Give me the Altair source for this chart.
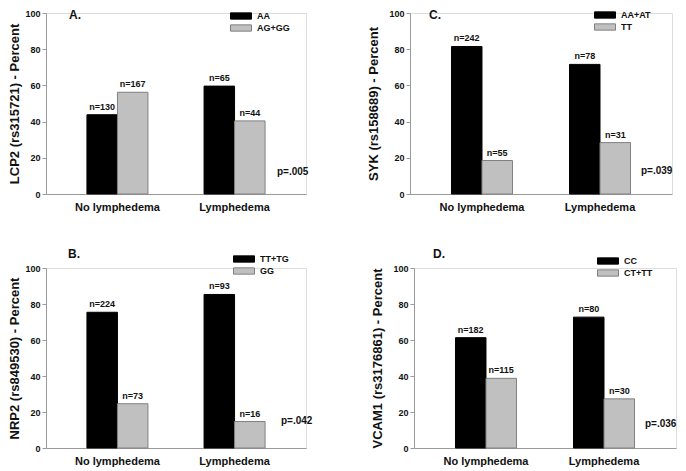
import altair as alt
import pandas as pd

# ---------------- data ----------------
groups = ["No lymphedema", "Lymphedema"]
letters = ["A.", "C.", "B.", "D."]
genotypes = [["AA", "AG+GG"], ["AA+AT", "TT"], ["TT+TG", "GG"], ["CC", "CT+TT"]]
pct_no = [[43.8, 56.2], [81.5, 18.5], [75.4, 24.6], [61.3, 38.7]]
pct_ly = [[59.6, 40.4], [71.6, 28.4], [85.3, 14.7], [72.7, 27.3]]
n_no = [[130, 167], [242, 55], [224, 73], [182, 115]]
n_ly = [[65, 44], [78, 31], [93, 16], [80, 30]]
pvals = ["p=.005", "p=.039", "p=.042", "p=.036"]
ytitles = ["LCP2 (rs315721) - Percent", "SYK (rs158689) - Percent",
           "NRP2 (rs849530) - Percent", "VCAM1 (rs3176861) - Percent"]
y_ticks = [0, 20, 40, 60, 80, 100]

FONT = "Liberation Sans"
TXT = "#111111"
AXC = "#9a9a9a"
FILLS = ["#000000", "#c0c0c0"]
STROKES = ["#000000", "#808080"]
BAR_W = 30.5
OFFS = [-BAR_W / 2, BAR_W / 2]

# per-panel layout (pixels)
layout = [
    dict(w=260, h=181, tp=3, lx=189, ly=-3, ax=23, ay=2, px=231, py=159),
    dict(w=262, h=181, tp=8, lx=189, ly=-4, ax=19, ay=2, px=231, py=158),
    dict(w=260, h=180, tp=3, lx=192, ly=-15, ax=22, ay=-14.5, px=235, py=153),
    dict(w=262, h=180, tp=8, lx=188, ly=-13, ax=19, ay=-14.5, px=231, py=156),
]


def panel(i):
    L = layout[i]
    genos = genotypes[i]
    df = pd.DataFrame({
        "group": [groups[0]] * 2 + [groups[1]] * 2,
        "geno": genos * 2,
        "pct": pct_no[i] + pct_ly[i],
        "label": ["n=%d" % v for v in n_no[i] + n_ly[i]],
    })
    x = alt.X("group:N", sort=groups,
              scale=alt.Scale(type="band", paddingInner=0.48, paddingOuter=0.35),
              axis=alt.Axis(title=None, labelAngle=0, ticks=False, labelPadding=7,
                            labelFontSize=11, labelFontWeight="bold", labelColor=TXT,
                            labelFont=FONT, domainColor=AXC))
    y = alt.Y("pct:Q", scale=alt.Scale(domain=[0, 100]),
              axis=alt.Axis(title=ytitles[i], values=y_ticks, grid=False, tickSize=4,
                            tickColor=AXC, domainColor=AXC, labelPadding=2,
                            labelFontSize=9, labelFontWeight="bold", labelColor=TXT,
                            labelFont=FONT, titleFont=FONT, titleFontSize=13,
                            titleFontWeight="bold", titleColor=TXT,
                            titlePadding=L["tp"]))
    color = alt.Color("geno:N", sort=genos,
                      scale=alt.Scale(domain=genos, range=FILLS),
                      legend=alt.Legend(title=None, orient="none",
                                        legendX=L["lx"], legendY=L["ly"],
                                        symbolType="M-2,-0.6H2V0.6H-2Z", symbolSize=110,
                                        symbolStrokeColor="#707070", symbolStrokeWidth=1,
                                        labelFontSize=9, labelFontWeight="bold",
                                        labelFont=FONT, labelColor=TXT, labelOffset=10,
                                        rowPadding=0))
    stroke = alt.Stroke("geno:N", sort=genos,
                        scale=alt.Scale(domain=genos, range=STROKES), legend=None)
    layers = []
    for j, g in enumerate(genos):
        base = alt.Chart(df).transform_filter(alt.datum.geno == g)
        layers.append(base.mark_bar(strokeWidth=1, width=BAR_W, xOffset=OFFS[j]).encode(
            x=x, y=y, color=color, stroke=stroke))
    for j, g in enumerate(genos):
        base = alt.Chart(df).transform_filter(alt.datum.geno == g)
        layers.append(base.mark_text(baseline="alphabetic", dy=-5, xOffset=OFFS[j],
                                     fontSize=9, fontWeight="bold", font=FONT,
                                     color=TXT).encode(x=x, y=y, text="label:N"))
    letter = alt.Chart(pd.DataFrame({"t": [letters[i]]})).mark_text(
        align="left", baseline="middle", fontSize=12, fontWeight="bold",
        font=FONT, color=TXT).encode(x=alt.value(L["ax"]), y=alt.value(L["ay"]),
                                     text="t:N")
    pv = alt.Chart(pd.DataFrame({"t": [pvals[i]]})).mark_text(
        align="left", baseline="middle", fontSize=10, fontWeight="bold",
        font=FONT, color=TXT).encode(x=alt.value(L["px"]), y=alt.value(L["py"]),
                                     text="t:N")
    layers += [letter, pv]
    return alt.layer(*layers).properties(width=L["w"], height=L["h"])


top = alt.hconcat(panel(0), panel(1), spacing=58).resolve_scale(
    color="independent", stroke="independent")
bottom = alt.hconcat(panel(2), panel(3), spacing=58).resolve_scale(
    color="independent", stroke="independent")

chart = alt.vconcat(top, bottom, spacing=34).resolve_scale(
    color="independent", stroke="independent").properties(
    padding=0
).configure_view(stroke=None).configure(background="white")

chart.save("out.html", embed_options={"renderer": "svg", "actions": False})
